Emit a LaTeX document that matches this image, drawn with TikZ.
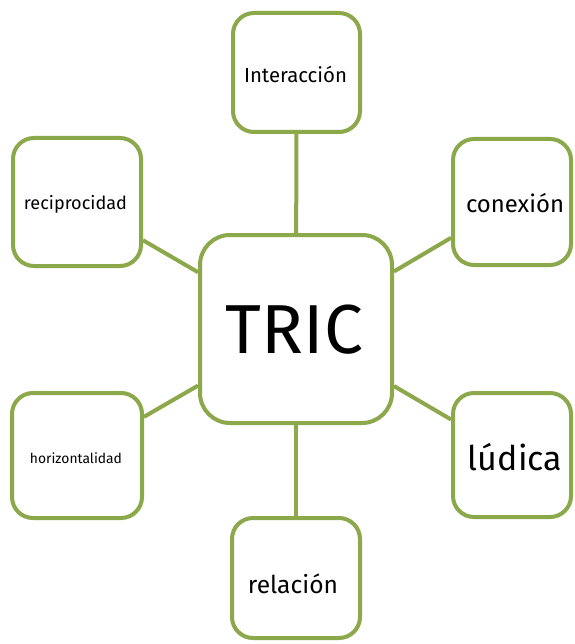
\documentclass[tikz,border=0pt]{standalone}
\usepackage{fontspec}
\setmainfont{Fira Sans}
\definecolor{olivegreen}{RGB}{139,168,74}
\begin{document}
\begin{tikzpicture}[x=1pt,y=-1pt,
  box/.style={draw=olivegreen, line width=4pt, rounded corners=21pt, fill=white, inner sep=0pt},
  txt/.style={anchor=base, inner sep=0pt},
  link/.style={draw=olivegreen, line width=4pt}]
\useasboundingbox (0,0) rectangle (574,644);
\node[box, minimum width=192pt, minimum height=188pt, rounded corners=30pt] (tric) at (296,329) {};
\node[box, minimum width=127pt, minimum height=119pt] (inter) at (296.5,72.5) {};
\node[box, minimum width=128pt, minimum height=128pt] (reci) at (77,202) {};
\node[box, minimum width=118pt, minimum height=126pt] (conex) at (512,202) {};
\node[box, minimum width=118pt, minimum height=124pt] (ludica) at (512,455) {};
\node[box, minimum width=130pt, minimum height=125pt] (horiz) at (77,455.5) {};
\node[box, minimum width=128pt, minimum height=120pt] (rel) at (296,578) {};
\node[txt] (trict) at (294.5,353) {\resizebox{137pt}{!}{TRIC}};
\node[txt] (intert) at (295.5,83) {\resizebox{103pt}{!}{Interacción}};
\node[txt] (recit) at (75.5,210) {\resizebox{103pt}{!}{reciprocidad}};
\node[txt] (conext) at (515,212) {\resizebox{98pt}{!}{conexión}};
\node[txt] (ludicat) at (515,470) {\resizebox{94pt}{!}{lúdica}};
\node[txt] (horizt) at (76,463) {\resizebox{92pt}{!}{horizontalidad}};
\node[txt] (relt) at (293,593) {\resizebox{90pt}{!}{relación}};
\draw[link] (tric) -- (inter);
\draw[link] (tric) -- (reci);
\draw[link] (tric) -- (conex);
\draw[link] (tric) -- (ludica);
\draw[link] (tric) -- (horiz);
\draw[link] (tric) -- (rel);
\end{tikzpicture}
\end{document}
